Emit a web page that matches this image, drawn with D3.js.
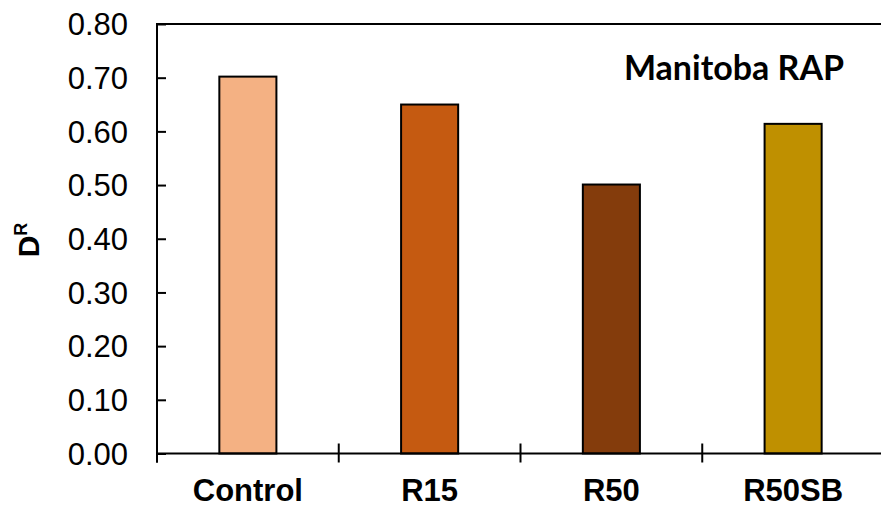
<!DOCTYPE html>
<html>
<head>
<meta charset="utf-8">
<script src="https://cdn.jsdelivr.net/npm/d3@7"></script>
<style>
  html, body { margin: 0; padding: 0; background: #fff; }
  svg { display: block; }
</style>
</head>
<body>
<script>
const categories = ["Control", "R15", "R50", "R50SB"];
const values = [0.702, 0.650, 0.501, 0.614];
const colors = ["#F4B183", "#C55A11", "#843C0C", "#BF9000"];
const yTicks = [0, 0.1, 0.2, 0.3, 0.4, 0.5, 0.6, 0.7, 0.8];
const title = "Manitoba RAP";

const W = 881, H = 515;
const mLeft = 157, mTop = 24, mBottom = 453.5, mRight = 884;

const svg = d3.select("body").append("svg").attr("width", W).attr("height", H);

const x = d3.scaleBand().domain(categories).range([mLeft, mRight]).paddingInner(0.686).paddingOuter(0.343);
const y = d3.scaleLinear().domain([0, 0.8]).range([mBottom, mTop]);

// top frame line
svg.append("line").attr("x1", mLeft).attr("x2", W).attr("y1", y(0.8)).attr("y2", y(0.8))
  .attr("stroke", "#000").attr("stroke-width", 2);

// bars
svg.selectAll("rect.bar").data(categories).join("rect")
  .attr("class", "bar")
  .attr("x", d => x(d))
  .attr("width", x.bandwidth())
  .attr("y", (d, i) => y(values[i]))
  .attr("height", (d, i) => y(0) - y(values[i]))
  .attr("fill", (d, i) => colors[i])
  .attr("stroke", "#000").attr("stroke-width", 2);

// y axis
const yAxis = d3.axisRight(y).tickValues(yTicks).tickSize(9).tickFormat(d3.format(".2f"));
const gy = svg.append("g").attr("transform", `translate(${mLeft},0)`).call(yAxis);
gy.select(".domain").remove();
gy.selectAll(".tick line").attr("stroke", "#000").attr("stroke-width", 2);
gy.selectAll(".tick text").remove();
svg.append("line").attr("x1", mLeft).attr("x2", mLeft).attr("y1", y(0.8) - 1).attr("y2", mBottom + 9)
  .attr("stroke", "#000").attr("stroke-width", 2);

// y tick labels
svg.append("g").selectAll("text").data(yTicks).join("text")
  .attr("x", 128).attr("y", d => y(d))
  .attr("dy", "0.36em")
  .attr("text-anchor", "end")
  .attr("font-family", "Liberation Sans, Arial, sans-serif")
  .attr("font-size", 31)
  .attr("fill", "#000")
  .text(d3.format(".2f"));

// x axis
const bandStep = x.step();
const boundaries = d3.range(categories.length + 1).map(i => mLeft + i * bandStep);
svg.append("line").attr("x1", mLeft).attr("x2", W).attr("y1", mBottom).attr("y2", mBottom)
  .attr("stroke", "#000").attr("stroke-width", 2);
svg.append("g").selectAll("line").data(boundaries).join("line")
  .attr("x1", d => d).attr("x2", d => d).attr("y1", mBottom - 10).attr("y2", mBottom + 9)
  .attr("stroke", "#000").attr("stroke-width", 2);

svg.append("g").selectAll("text").data(categories).join("text")
  .attr("x", d => x(d) + x.bandwidth() / 2)
  .attr("y", 501)
  .attr("text-anchor", "middle")
  .attr("font-family", "Liberation Sans, Arial, sans-serif")
  .attr("font-weight", "bold")
  .attr("font-size", 31)
  .attr("fill", "#000")
  .text(d => d);

// y label
const yl = svg.append("text")
  .attr("transform", "translate(39,240) rotate(-90)")
  .attr("text-anchor", "middle")
  .attr("font-family", "Liberation Sans, Arial, sans-serif")
  .attr("font-weight", "bold")
  .attr("font-size", 30)
  .attr("fill", "#000");
yl.append("tspan").text("D");
yl.append("tspan").attr("font-size", 18).attr("dy", -12).text("R");

// title
svg.append("text")
  .attr("x", 734).attr("y", 80)
  .attr("text-anchor", "middle")
  .attr("font-family", "Lato, Open Sans, sans-serif")
  .attr("font-weight", "bold")
  .attr("font-size", 34)
  .attr("fill", "#000")
  .text(title);
</script>
</body>
</html>
